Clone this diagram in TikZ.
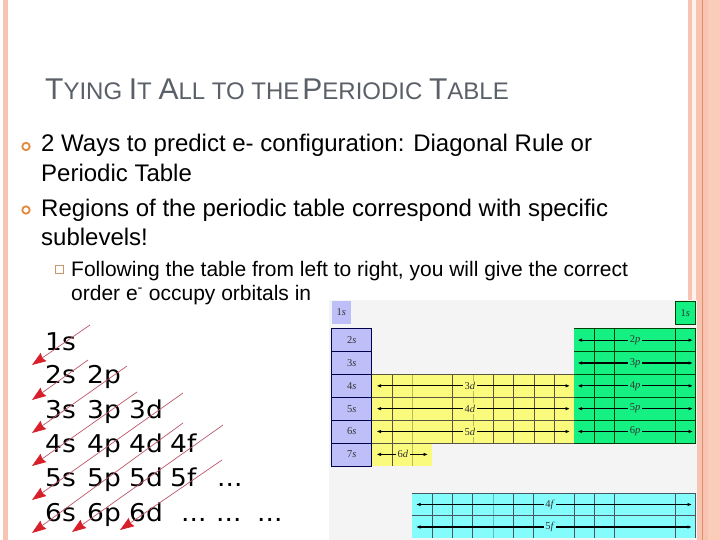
\documentclass[tikz,border=0pt]{standalone}
\usepackage{fontspec}
\setmainfont{Liberation Sans}
\newfontfamily\dejafont[FakeStretch=1.08]{DejaVu Sans}
\newfontfamily\tabfont{Liberation Serif}
\usetikzlibrary{arrows.meta}
\definecolor{stripe}{HTML}{F8C3B1}
\definecolor{stripelight}{HTML}{FDF3EA}
\definecolor{stripepale}{HTML}{FBCCBA}
\definecolor{stripeline}{HTML}{DE8E68}
\definecolor{titlegray}{HTML}{5A5F68}
\definecolor{bulletorange}{HTML}{E3893D}
\definecolor{subbox}{HTML}{C9956A}
\definecolor{sblock}{HTML}{BEBEF8}
\definecolor{dblock}{HTML}{FAFA7C}
\definecolor{pblock}{HTML}{14F082}
\definecolor{fblock}{HTML}{84FCFC}
\definecolor{tablebg}{HTML}{F4F4F4}
\definecolor{diagline}{HTML}{BC5868}
\definecolor{diagtip}{HTML}{D8202A}
\newcommand\tbig[1]{{\fontsize{30}{36}\selectfont #1}}
\newcommand\tsml[1]{{\fontsize{24}{28}\selectfont #1}}
\tikzset{
  txt/.style={anchor=base west, inner sep=0pt},
  titletxt/.style={txt, text=titlegray, font=\fontsize{24}{28}\selectfont},
  bodytxt/.style={txt, font=\fontsize{24}{28}\selectfont},
  subtxt/.style={txt, font=\fontsize{21}{25}\selectfont},
  term/.style={txt, font=\dejafont\fontsize{24.5}{28}\selectfont},
  diagarrow/.style={diagline, line width=0.7pt, -{Stealth[length=14pt,width=10pt,inset=1.5pt,color=diagtip]}},
  cellab/.style={font=\tabfont\fontsize{10.5}{12}\selectfont, text=black!80, inner sep=1.5pt},
  sline/.style={draw=black!70!blue, line width=0.5pt},
  dline/.style={draw=black!75!yellow, line width=0.5pt},
  pline/.style={draw=black!75!green, line width=0.5pt},
  fline/.style={draw=black!70!cyan, line width=0.5pt},
  tabarrow/.style={line width=1.1pt, {Latex[length=4.5pt,width=3.5pt]}-{Latex[length=4.5pt,width=3.5pt]}},
}
\begin{document}
\begin{tikzpicture}[x=1pt,y=-1pt]
\useasboundingbox (0,0) rectangle (720,540);
\fill[white] (0,0) rectangle (720,540);
% side stripes
\fill[stripe] (2.7,0) rectangle (8.3,540);
\fill[stripe] (688,0) rectangle (720,540);
\fill[stripelight] (692,0) rectangle (696,540);
\fill[stripepale] (708.3,0) rectangle (720,540);
\draw[stripeline, line width=0.8pt] (702.3,0) -- (702.3,540);

% title
\node[titletxt] (title) at (45,100)
 {\tbig{T}\tsml{YING} \tbig{I}\tsml{T} \tbig{A}\tsml{LL} \tsml{TO} \tsml{THE}\hspace{3pt}\tbig{P}\tsml{ERIODIC} \tbig{T}\tsml{ABLE}};

% bullets
\draw[bulletorange, line width=1.8pt] (26,146.5) circle (3.7);
\draw[bulletorange, line width=1.8pt] (26,210) circle (3.7);
\draw[subbox, line width=0.8pt] (55.5,265.5) rectangle (63,273.5);

\node[bodytxt] (l1) at (41,151.7) {2 Ways to predict e- configuration: Diagonal Rule or};
\node[bodytxt] (l2) at (41,181.7) {Periodic Table};
\node[bodytxt] (l3) at (41,216.7) {Regions of the periodic table correspond with specific};
\node[bodytxt] (l4) at (41,245) {sublevels!};
\node[subtxt] (l5) at (71,276.7) {Following the table from left to right, you will give the correct};
\node[subtxt] (l6) at (71,300) {order e\textsuperscript{-} occupy orbitals in};

% diagonal rule terms
\node[term] (t1s) at (45,350) {1s};
\node[term] (t2s) at (45,383.5) {2s};
\node[term] (t2p) at (87,383.5) {2p};
\node[term] (t3s) at (45,418) {3s};
\node[term] (t3p) at (87,418) {3p};
\node[term] (t3d) at (129,418) {3d};
\node[term] (t4s) at (45,452) {4s};
\node[term] (t4p) at (87,452) {4p};
\node[term] (t4d) at (129,452) {4d};
\node[term] (t4f) at (170,452) {4f};
\node[term] (t5s) at (45,486.5) {5s};
\node[term] (t5p) at (87,486.5) {5p};
\node[term] (t5d) at (129,486.5) {5d};
\node[term] (t5f) at (170,486.5) {5f};
\node[term] (t5x) at (217,486.5) {...};
\node[term] (t6s) at (45,521.5) {6s};
\node[term] (t6p) at (87,521.5) {6p};
\node[term] (t6d) at (129,521.5) {6d};
\node[term] (t6x) at (181,521.5) {...};
\node[term] (t6y) at (216,521.5) {...};
\node[term] (t6z) at (257,521.5) {...};

% diagonal arrows
\coordinate (a1s) at (90,325);  \coordinate (a1e) at (32,365);
\coordinate (a2s) at (88,360);  \coordinate (a2e) at (32,400);
\coordinate (a3s) at (127,366); \coordinate (a3e) at (32,433);
\coordinate (a4s) at (137,392); \coordinate (a4e) at (32,466);
\coordinate (a5s) at (183,393); \coordinate (a5e) at (32,500);
\coordinate (a6s) at (183,423); \coordinate (a6e) at (32,533);
\coordinate (a7s) at (223,425); \coordinate (a7e) at (72,532);
\coordinate (a8s) at (222,460); \coordinate (a8e) at (120,530);
\foreach \i in {1,...,8} \draw[diagarrow] (a\i s) -- (a\i e);

% periodic table background
\fill[tablebg] (329,300) rectangle (697,540);

% 1s boxes
\fill[sblock] (331.7,301) rectangle (350.7,323.7);
\node[cellab] (s1) at (341.2,312.4) {1\textit{s}};
\draw[pline, fill=pblock] (675,301.7) rectangle (695.7,324);
\node[cellab] (p1) at (685.4,312.9) {1\textit{s}};

% s-block
\foreach \k in {2,...,7}{
  \pgfmathsetmacro\yt{328.7+22.85*(\k-2)}
  \pgfmathsetmacro\yb{\yt+22.85}
  \pgfmathsetmacro\yc{\yt+11.425}
  \draw[sline, fill=sblock] (331.7,\yt) rectangle (371.7,\yb);
  \node[cellab] (s\k) at (351.7,\yc) {\k\textit{s}};
}

% d-block
\fill[dblock] (371.7,374.4) rectangle (574.3,442.95);
\fill[dblock] (371.7,442.95) rectangle (431.7,465.8);
\foreach \c in {1,4,6,7,8,9} \draw[dline] ({371.7+20.26*\c},374.4) -- ({371.7+20.26*\c},442.95);
\foreach \c in {2,5} \draw[dline, draw opacity=0.4] ({371.7+20.26*\c},374.4) -- ({371.7+20.26*\c},442.95);
\draw[dline] (391.96,442.95) -- (391.96,465.8);
\draw[dline, draw opacity=0.4] (412.2,442.95) -- (412.2,465.8);
\foreach \yy in {374.4,397.25,420.1,442.95} \draw[dline] (371.7,\yy) -- (574.3,\yy);
\foreach \k/\n in {4/3,5/4,6/5}{
  \pgfmathsetmacro\yc{328.7+22.85*(\k-2)+11.425}
  \coordinate (dl\k) at (376.5,\yc);
  \coordinate (dr\k) at (570,\yc);
  \draw[tabarrow] (dl\k) -- (dr\k);
  \node[cellab, fill=dblock] (d\k) at (470,\yc) {\n\textit{d}};
}
\coordinate (dl7) at (376.5,454.4);
\coordinate (dr7) at (428,454.4);
\draw[tabarrow] (dl7) -- (dr7);
\node[cellab, fill=dblock] (d7) at (403,454.4) {6\textit{d}};

% p-block
\fill[pblock] (574.3,328.7) rectangle (695.7,442.95);
\foreach \xx in {594.5,614.7,675.5,695.7} \draw[pline] (\xx,328.7) -- (\xx,442.95);
\foreach \yy in {328.7,351.55,374.4,397.25,420.1,442.95} \draw[pline] (574.3,\yy) -- (695.7,\yy);
\foreach \k in {2,...,6}{
  \pgfmathsetmacro\yc{328.7+22.85*(\k-2)+11.425}
  \coordinate (pl\k) at (577.5,\yc);
  \coordinate (pr\k) at (693,\yc);
  \draw[tabarrow] (pl\k) -- (pr\k);
  \node[cellab, fill=pblock] (p\k) at (635,\yc) {\k\textit{p}};
}

% f-block
\fill[fblock] (411.7,493.3) rectangle (695.7,538.1);
\foreach \c in {1,2,3,5,6,8,9,10,13} \draw[fline] ({411.7+20.286*\c},493.3) -- ({411.7+20.286*\c},538.1);
\draw[fline, draw opacity=0.4] ({411.7+20.286*4},493.3) -- ({411.7+20.286*4},538.1);
\draw[fline] (695.7,493.3) -- (695.7,538.1);
\foreach \yy in {493.3,515.7} \draw[fline] (411.7,\yy) -- (695.7,\yy);
\foreach \yc/\n [count=\j] in {504.5/4,527/5}{
  \coordinate (fl\j) at (416,\yc);
  \coordinate (fr\j) at (692,\yc);
  \draw[tabarrow] (fl\j) -- (fr\j);
  \node[cellab, fill=fblock] (f\j) at (550,\yc) {\n\textit{f}};
}
\end{tikzpicture}
\end{document}
